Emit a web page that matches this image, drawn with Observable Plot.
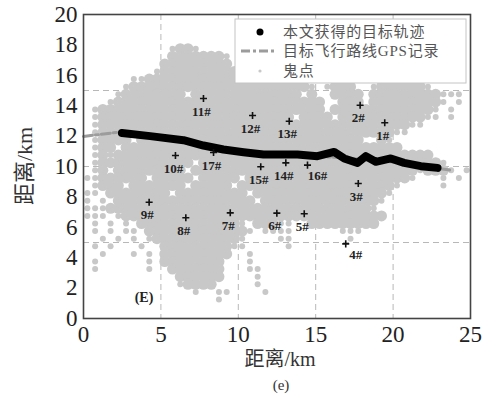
<!DOCTYPE html>
<html><head><meta charset="utf-8">
<script src="https://cdn.jsdelivr.net/npm/d3@7"></script>
<script src="https://cdn.jsdelivr.net/npm/@observablehq/plot@0.6"></script>
<style>
html,body{margin:0;padding:0;background:#fff;}
#chart{position:relative;width:486px;height:396px;}
svg{display:block;}
</style></head><body><div id="chart"></div>
<script>
// ---- data ----
// target track obtained (black)
const trackX = [2.48, 4.31, 6.46, 7.75, 9.04, 10.34, 11.63, 12.53, 13.82, 15.11, 16.19, 16.84, 17.7, 18.24, 18.88, 19.85, 20.71, 21.79, 22.87];
const trackY = [12.21, 12.0, 11.73, 11.38, 11.12, 10.94, 10.79, 10.79, 10.79, 10.68, 10.96, 10.53, 10.24, 10.68, 10.31, 10.53, 10.24, 10.02, 9.91];
// GPS record of the flight route (grey dash-dot)
const gpsX = [0, 1, 2.4, 5, 8, 11, 14, 17, 20, 23.8];
const gpsY = [11.98, 12.1, 12.28, 11.95, 11.35, 10.9, 10.75, 10.55, 10.3, 9.75];
// stations
const siteNames = ["1#","2#","3#","4#","5#","6#","7#","8#","9#","10#","11#","12#","13#","14#","15#","16#","17#"];
const siteX = [19.46, 17.87, 17.75, 16.94, 14.26, 12.49, 9.48, 6.61, 4.24, 5.94, 7.75, 10.92, 13.29, 13.07, 11.45, 14.47, 8.40];
const siteY = [12.88, 14.03, 8.88, 4.91, 6.89, 6.93, 6.95, 6.63, 7.65, 10.72, 14.47, 13.36, 12.98, 10.24, 9.98, 10.09, 10.92];
// ghost points: raster, rows from top (y=20) down, 0.5 km cells,
// '#' = dense ghost points, '.' = isolated ghost points ('|' separates groups of 10 cells)
const ghostRows = [
"          |          |          |          |          ",
"          |          |          |          |          ",
"          |          |          |          |          ",
"          |          |          |          |          ",
"          | .##.     |          |          |          ",
"          | #######. |          |          |          ",
"          |######### |          |          |          ",
"         .|##########|          |          |          ",
"      ..##|##########|#######   |          |          ",
"     .####|##########|#########.| .###  .##|####.     ",
"    .#####|### ######|######## #|  #### ###|######... ",
"   .######|##########|##########|#  ### ###|######. . ",
" .########|##########|##########|# ########|#####. .  ",
" .########|##########|####### ##|## #######|####.. .  ",
" .########|##########|##########|##########|##..      ",
" .########|##########|##########|##########|..        ",
" .#### ###|##########|##########|######  #.|          ",
" .## #####|##########|##########|##########|#         ",
" .#.######|##########|##########|##########|#####     ",
" .########|#### #####|##########|##########|######.   ",
" .# ######|### ######|##########|##########|###.###. .",
"..###### #|#### #####| #########|##########|##.   . . ",
" .### ####|### ##### |##########|##########|.     .   ",
".. #######|# ########|# ########|#########.|          ",
". . ######|##########|## #######|########. |          ",
"...#######|##########|##########|#######.  |          ",
"... .#####|##########|##########|######### |          ",
" . . . ###|##########|. ###..  #|########  |          ",
" . . .. ##|##########|#. ....   |   ...    |          ",
"  . . . .#|##########|.    ..   |    .     |          ",
" . .   .  |#########.|.     .   |          |          ",
"  .   . . |######### | .        |          |          ",
" .      . |########  | .        |          |          ",
" .      . | #######  | ..       |          |          ",
"          |  ######  |  .       |          |          ",
"          |  .####   |  .       |          |          ",
"          |    .  .. |   .      |          |          ",
"          |       .  |          |          |          ",
"          |          |          |          |          ",
"          |          |          |          |          "
];
const xTicks = [0, 5, 10, 15, 20, 25];
const yTicks = [0, 2, 4, 6, 8, 10, 12, 14, 16, 18, 20];
const xGrid = [5, 10, 15, 20];
const yGrid = [5, 10, 15];
const legendLabels = ["本文获得的目标轨迹", "目标飞行路线GPS记录", "鬼点"];

// ---- build tables ----
const track = trackX.map((x, i) => ({x, y: trackY[i]}));
const gps = gpsX.map((x, i) => ({x, y: gpsY[i]}));
const sites = siteNames.map((name, i) => ({name, x: siteX[i], y: siteY[i]}));
const ghost = [];
ghostRows.forEach((row, r) => {
  const s = row.replace(/\|/g, "");
  for (let c = 0; c < s.length; c++) {
    const ch = s[c];
    if (ch === "#" || ch === ".") ghost.push({x: 0.25 + 0.5 * c, y: 19.75 - 0.5 * r, dense: ch === "#"});
  }
});
const special = ["16#", "4#"];
const ghostColor = "#c8c8c8";
const gpsColor = "#9c9c9c";
const serif = "'Liberation Serif', 'Noto Sans CJK SC', serif";

const chart = Plot.plot({
  width: 486, height: 396,
  marginLeft: 83, marginRight: 16, marginTop: 14, marginBottom: 78,
  style: {fontFamily: serif, fontSize: "23px", color: "#222", background: "#fff"},
  x: {domain: [0, 25], ticks: xTicks, tickSize: 0, tickPadding: 7, label: null},
  y: {domain: [0, 20], ticks: yTicks, tickSize: 0, tickPadding: 6, label: null},
  marks: [
    Plot.ruleX(xGrid, {stroke: "#b8b8b8", strokeWidth: 1, strokeDasharray: "6,4"}),
    Plot.ruleY(yGrid, {stroke: "#b8b8b8", strokeWidth: 1, strokeDasharray: "6,4"}),
    Plot.dot(ghost.filter(d => d.dense), {x: "x", y: "y", r: 5.5, fill: ghostColor}),
    Plot.dot(ghost.filter(d => !d.dense), {x: "x", y: "y", r: 3, fill: ghostColor}),
    Plot.line(gps, {x: "x", y: "y", stroke: gpsColor, strokeWidth: 3, strokeDasharray: "9,3,3,3"}),
    Plot.line(track, {x: "x", y: "y", stroke: "#000", strokeWidth: 8, strokeLinecap: "round", strokeLinejoin: "round"}),
    Plot.dot(sites, {x: "x", y: "y", symbol: "plus", r: 2.4, stroke: "#111", strokeWidth: 1.6}),
    Plot.text(sites.filter(d => !special.includes(d.name)), {x: "x", y: "y", text: "name", dy: 13, dx: -2, fontSize: 13, fontWeight: "bold", fill: "#222"}),
    Plot.text(sites.filter(d => special.includes(d.name)), {x: "x", y: "y", text: "name", dy: 11, dx: 10, fontSize: 13, fontWeight: "bold", fill: "#222"}),
    Plot.frame({stroke: "#444", strokeWidth: 1.6})
  ]
});
document.getElementById("chart").appendChild(chart);

// ---- legend, titles and annotations ----
const svg = d3.select(chart);
const lg = svg.append("g").attr("text-anchor", "start");
lg.append("rect").attr("x", 235).attr("y", 19).attr("width", 231).attr("height", 64)
  .attr("fill", "#fff").attr("stroke", "#c4c4c4").attr("stroke-width", 1);
lg.append("circle").attr("cx", 260).attr("cy", 32).attr("r", 3.5).attr("fill", "#000");
lg.append("line").attr("x1", 241).attr("x2", 277).attr("y1", 51).attr("y2", 51)
  .attr("stroke", gpsColor).attr("stroke-width", 3).attr("stroke-dasharray", "9,3,3,3");
lg.append("circle").attr("cx", 260).attr("cy", 71).attr("r", 1.6).attr("fill", ghostColor);
legendLabels.forEach((t, i) => {
  lg.append("text").attr("x", 283).attr("y", [32, 51, 71][i]).attr("dominant-baseline", "central")
    .attr("text-anchor", "start")
    .attr("font-family", serif).attr("font-size", 15).attr("letter-spacing", 0.8)
    .attr("fill", "#555").text(t);
});
svg.append("text").attr("transform", "translate(24,166) rotate(-90)").attr("text-anchor", "middle")
  .attr("dominant-baseline", "central").attr("font-family", serif).attr("font-size", 22).attr("fill", "#333").text("距离/km");
svg.append("text").attr("x", 280).attr("y", 359).attr("text-anchor", "middle")
  .attr("dominant-baseline", "central").attr("font-family", serif).attr("font-size", 20).attr("fill", "#333").text("距离/km");
svg.append("text").attr("x", 281).attr("y", 385).attr("text-anchor", "middle")
  .attr("dominant-baseline", "central").attr("font-family", serif).attr("font-size", 15).attr("fill", "#333").text("(e)");
svg.append("text").attr("x", 144).attr("y", 297).attr("text-anchor", "middle")
  .attr("dominant-baseline", "central").attr("font-family", serif).attr("font-size", 14).attr("font-weight", "bold").attr("fill", "#222").text("(E)");
</script>
</body></html>
